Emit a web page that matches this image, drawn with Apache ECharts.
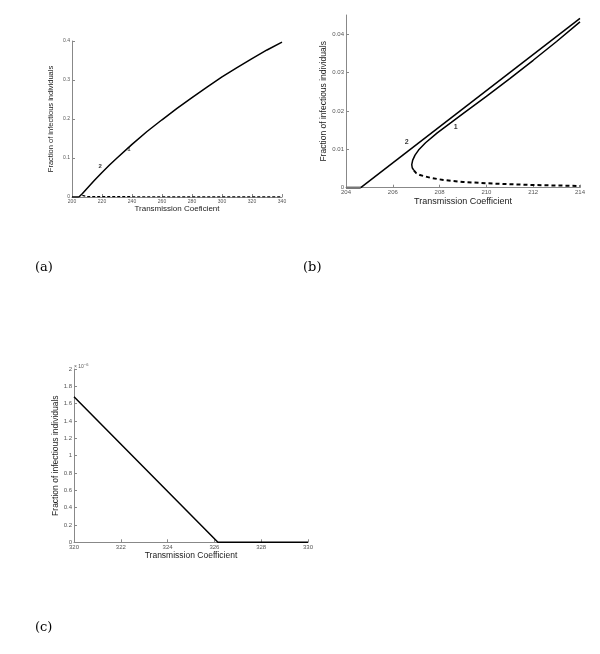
<!DOCTYPE html>
<html><head><meta charset="utf-8">
<script src="https://cdn.jsdelivr.net/npm/echarts@6.0.0/dist/echarts.min.js"></script>
<style>html,body{margin:0;padding:0;background:#fff}#c{width:600px;height:654px}</style>
</head><body><div id="c"></div>
<script>
// ---- data (a) ----
const aXTicks = [200, 220, 240, 260, 280, 300, 320, 340];
const aYTicks = [0, 0.1, 0.2, 0.3, 0.4];
const aZero = [[200, 0], [204.6, 0]];
const aUpper = [[204.6, 0], [207, 0.009], [210, 0.022], [215, 0.043], [220, 0.063], [225, 0.082], [230, 0.1], [240, 0.135], [250, 0.168], [260, 0.198], [270, 0.227], [280, 0.255], [290, 0.282], [300, 0.308], [310, 0.332], [320, 0.355], [330, 0.377], [340, 0.397]];
const aLower = [[206.9, 0.004], [210, 0.0012], [240, 0.0007], [280, 0.0005], [340, 0.0004]];
const aLabels = [[218.7, 0.079, '2'], [238, 0.122, '1']];
// ---- data (b) ----
const bXTicks = [204, 206, 208, 210, 212, 214];
const bYTicks = [0, 0.01, 0.02, 0.03, 0.04];
const bZero = [[204, 0], [204.63, 0]];
const bLine2 = [[204.63, 0], [214, 0.0441]];
const bCurve1 = [[206.9, 0.0045], [206.83, 0.0052], [206.81, 0.006], [206.85, 0.0072], [206.95, 0.0085], [207.1, 0.0098], [207.4, 0.0117], [207.9, 0.0143], [208.5, 0.017], [209, 0.0193], [210, 0.0238], [211, 0.0284], [212, 0.0332], [213, 0.0381], [214, 0.0432]];
const bDashed = [[206.9, 0.0045], [207.0, 0.0038], [207.16, 0.0033], [207.6, 0.0026], [208.16, 0.002], [209, 0.0015], [210, 0.00115], [211, 0.0009], [212, 0.0007], [213.6, 0.0005], [214, 0.00045]];
const bLabels = [[206.59, 0.012, '2'], [208.69, 0.0157, '1']];
// ---- data (c) ----
const cXTicks = [320, 322, 324, 326, 328, 330];
const cYTicks = [0, 0.2e-6, 0.4e-6, 0.6e-6, 0.8e-6, 1e-6, 1.2e-6, 1.4e-6, 1.6e-6, 1.8e-6, 2e-6];
const cLine = [[320, 1.68e-6], [326.15, 0], [330, 0]];

const axisGray = '#888';
const labGray = '#555';
const sans = 'Liberation Sans, Arial, sans-serif';
const serif = 'DejaVu Serif, Liberation Serif, serif';

function xAx(idx, min, max, ticks, name, fs, nfs, gap) {
  return {
    type: 'value', gridIndex: idx, min: min, max: max,
    name: name, nameLocation: 'middle', nameGap: gap,
    nameTextStyle: { fontSize: nfs, color: '#222', fontFamily: sans },
    axisLine: { show: true, lineStyle: { color: axisGray, width: 1 } },
    axisTick: { show: true, inside: true, length: 3, customValues: ticks, lineStyle: { color: axisGray } },
    axisLabel: { customValues: ticks, fontSize: fs, color: labGray, margin: 2, fontFamily: sans },
    splitLine: { show: false }
  };
}
function yAx(idx, min, max, ticks, name, fs, nfs, gap, fmt) {
  return {
    type: 'value', gridIndex: idx, min: min, max: max,
    name: name, nameLocation: 'middle', nameGap: gap, nameRotate: 90,
    nameTextStyle: { fontSize: nfs, color: '#222', fontFamily: sans },
    axisLine: { show: true, lineStyle: { color: axisGray, width: 1 } },
    axisTick: { show: true, inside: true, length: 3, customValues: ticks, lineStyle: { color: axisGray } },
    axisLabel: { customValues: ticks, fontSize: fs, color: labGray, margin: 2, fontFamily: sans, formatter: fmt },
    splitLine: { show: false }
  };
}
function ln(xi, data, opt) {
  return Object.assign({
    type: 'line', xAxisIndex: xi, yAxisIndex: xi, data: data, showSymbol: false, symbol: 'none',
    lineStyle: { color: '#000', width: 1.5 }, animation: false, z: 3
  }, opt || {});
}
function lbl(xi, data, fs) {
  return {
    type: 'scatter', xAxisIndex: xi, yAxisIndex: xi, symbolSize: 0, animation: false,
    data: data.map(d => [d[0], d[1], d[2]]),
    label: { show: true, position: 'inside', formatter: p => p.data[2], fontSize: fs, fontWeight: 'bold', color: '#000', fontFamily: sans }
  };
}

const chart = echarts.init(document.getElementById('c'), null, { renderer: 'canvas' });
chart.setOption({
  backgroundColor: '#fff',
  animation: false,
  grid: [
    { left: 72, top: 41, width: 210, height: 156, outerBoundsMode: 'none' },
    { left: 346, top: 15, width: 234, height: 172.7, outerBoundsMode: 'none' },
    { left: 74, top: 369, width: 234, height: 173.3, outerBoundsMode: 'none' }
  ],
  xAxis: [
    xAx(0, 200, 340, aXTicks, 'Transmission Coeficient', 5, 8, 7),
    xAx(1, 204, 214, bXTicks, 'Transmission Coefficient', 6, 9, 7),
    xAx(2, 320, 330, cXTicks, 'Transmission Coefficient', 6, 8.5, 8)
  ],
  yAxis: [
    yAx(0, 0, 0.4, aYTicks, 'Fraction of infectious individuals', 5, 7.5, 17),
    yAx(1, 0, 0.045, bYTicks, 'Fraction of infectious individuals', 6, 8.5, 15),
    yAx(2, 0, 2e-6, cYTicks, 'Fraction of infectious individuals', 6, 8.5, 11,
      v => String(parseFloat((v * 1e6).toFixed(1))))
  ],
  series: [
    ln(0, aZero),
    ln(0, aUpper),
    ln(0, aLower, { lineStyle: { color: '#000', width: 1.2, type: [3, 2] } }),
    lbl(0, aLabels, 6),
    ln(1, bZero, { lineStyle: { color: '#777', width: 2.5 } }),
    ln(1, bLine2),
    ln(1, bCurve1),
    ln(1, bDashed, { lineStyle: { color: '#000', width: 2, type: [4, 3] } }),
    lbl(1, bLabels, 7),
    ln(2, cLine)
  ],
  graphic: [
    { type: 'text', left: 74, top: 363, style: { rich: { a: { fontSize: 5, fill: labGray, fontFamily: sans }, s: { fontSize: 4, fill: labGray, fontFamily: sans, verticalAlign: 'top', padding: [0, 0, 4, 0] } }, text: '{a|× 10}{s|−6}' } },
    { type: 'text', left: 35, top: 261, style: { text: '(a)', fontSize: 13, fill: '#000', fontFamily: serif } },
    { type: 'text', left: 303, top: 261, style: { text: '(b)', fontSize: 13, fill: '#000', fontFamily: serif } },
    { type: 'text', left: 35, top: 621, style: { text: '(c)', fontSize: 13, fill: '#000', fontFamily: serif } }
  ]
});
</script></body></html>
